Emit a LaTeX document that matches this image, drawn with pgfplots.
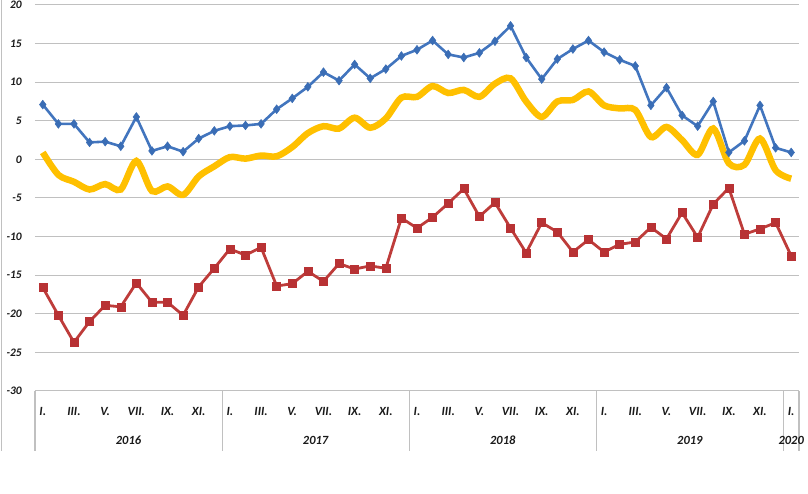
\documentclass[border=0pt]{standalone}
\usepackage{pgfplots}
\pgfplotsset{compat=1.18}
\usepackage{fontspec}
\setmainfont{Carlito}
\definecolor{cblue}{HTML}{4275BE}
\definecolor{cbluem}{HTML}{3A6DB5}
\definecolor{cred}{HTML}{BE3C3A}
\definecolor{credm}{HTML}{B83234}
\definecolor{cyel}{HTML}{FFC000}
\definecolor{cgrid}{HTML}{C0C0C0}
\definecolor{ctext}{HTML}{1A1A1A}
\pgfplotstableread{
i blue yel red
0 7.1 0.9 -16.6
1 4.6 -2.0 -20.2
2 4.6 -2.9 -23.7
3 2.2 -3.9 -21.0
4 2.3 -3.2 -18.9
5 1.7 -3.9 -19.1
6 5.5 -0.2 -16.0
7 1.1 -4.1 -18.5
8 1.7 -3.5 -18.5
9 1.0 -4.6 -20.2
10 2.7 -2.2 -16.5
11 3.7 -0.9 -14.1
12 4.3 0.3 -11.6
13 4.4 0.1 -12.4
14 4.6 0.5 -11.4
15 6.5 0.4 -16.4
16 7.9 1.6 -16.1
17 9.4 3.4 -14.5
18 11.3 4.3 -15.8
19 10.2 4.0 -13.5
20 12.3 5.4 -14.2
21 10.5 4.1 -13.8
22 11.7 5.3 -14.1
23 13.4 8.0 -7.6
24 14.2 8.1 -8.9
25 15.4 9.5 -7.5
26 13.6 8.6 -5.7
27 13.2 9.0 -3.8
28 13.8 8.1 -7.4
29 15.3 9.8 -5.6
30 17.3 10.5 -8.9
31 13.2 7.5 -12.1
32 10.4 5.5 -8.2
33 13.0 7.5 -9.4
34 14.3 7.7 -12.0
35 15.4 8.8 -10.4
36 13.9 7.0 -12.0
37 12.9 6.6 -11.0
38 12.1 6.4 -10.7
39 7.0 2.9 -8.8
40 9.3 4.2 -10.3
41 5.7 2.5 -6.9
42 4.3 0.6 -10.1
43 7.5 4.0 -5.8
44 0.9 -0.5 -3.7
45 2.4 -0.7 -9.7
46 7.0 2.7 -9.0
47 1.5 -1.4 -8.2
48 0.9 -2.5 -12.5
}\data
\begin{document}
\begin{tikzpicture}
\begin{axis}[name=ax, at={(0pt,0pt)}, anchor=south west, scale only axis,
  width=764pt, height=386pt, clip=false,
  xmin=-0.5, xmax=48.5, ymin=-30, ymax=20,
  ytick={-30,-25,...,20},
  xtick={0,2,...,48},
  xticklabels={I.,III.,V.,VII.,IX.,XI.,I.,III.,V.,VII.,IX.,XI.,I.,III.,V.,VII.,IX.,XI.,I.,III.,V.,VII.,IX.,XI.,I.},
  axis line style={draw=none},
  major tick length=0pt,
  ymajorgrids, grid style={cgrid, line width=1pt},
  /pgf/number format/assume math mode=true,
  yticklabel style={anchor=east, inner sep=0pt, xshift=-13pt, text=ctext, font=\fontsize{11.5}{14}\selectfont\bfseries\itshape},
  xticklabel style={anchor=base, inner sep=0pt, yshift=-25pt, text=ctext, font=\fontsize{12.5}{15}\selectfont\bfseries\itshape},
]
\foreach \xx in {-0.5,11.5,23.5,35.5,47.5,48.5}{
  \edef\tmp{\noexpand\draw[cgrid, line width=1.2pt] (axis cs:\xx,-30) -- ([yshift=-60pt]axis cs:\xx,-30);}\tmp
}
\foreach \xx/\yy in {5.5/2016,17.5/2017,29.5/2018,41.5/2019,48/2020}{
  \edef\tmp{\noexpand\node[anchor=base, inner sep=0pt, text=ctext, font=\noexpand\fontsize{12.5}{15}\noexpand\selectfont\noexpand\bfseries\noexpand\itshape] at ([yshift=-54pt]axis cs:\xx,-30) {\yy};}\tmp
}
\addplot[cyel, line width=6.5pt, smooth, no marks] table[x=i, y=yel] {\data};
\addplot[cblue, line width=2.6pt, mark=diamond*, mark size=4.4pt, mark options={fill=cbluem, draw=cbluem, line width=0.5pt}] table[x=i, y=blue] {\data};
\addplot[cred, line width=2.8pt, mark=square*, mark size=4pt, mark options={fill=credm, draw=credm, line width=0.5pt}] table[x=i, y=red] {\data};
\end{axis}
\draw[cgrid, line width=1.2pt] (-33.5pt,-60pt) -- (-33.5pt,391pt);
\pgfresetboundingbox
\path (-35pt,-103pt) rectangle (773pt,391pt);
\end{tikzpicture}
\end{document}
